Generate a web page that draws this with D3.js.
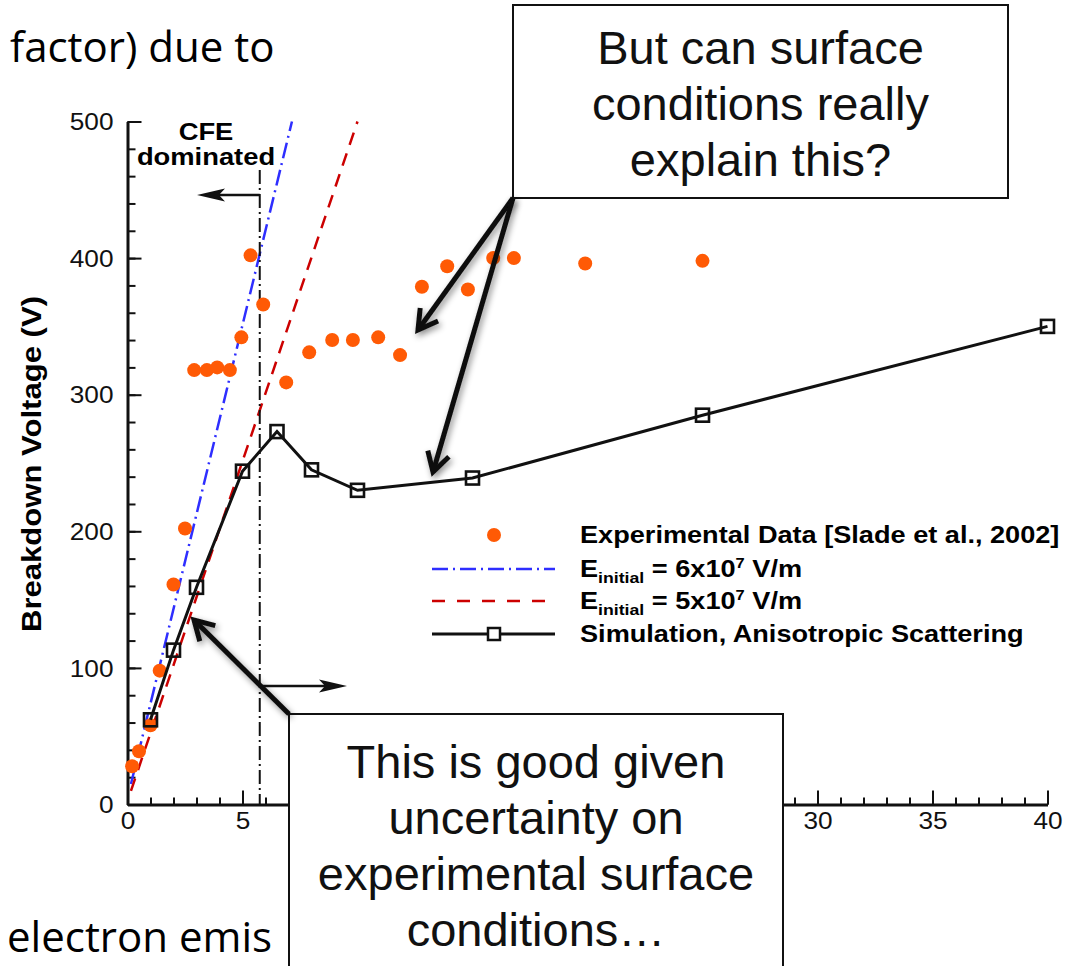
<!DOCTYPE html>
<html>
<head>
<meta charset="utf-8">
<script src="https://cdn.jsdelivr.net/npm/d3@7"></script>
<style>
  body { margin: 0; background: #fff; }
  svg { display: block; }
</style>
</head>
<body>
<div id="chart"></div>
<script>
"use strict";

// experimental data [Slade et al., 2002]
const expGap = [0.2, 0.5, 1.0, 1.4, 2.0, 2.5, 2.9, 3.45, 3.9, 4.45, 4.95, 5.35, 5.9, 6.9, 7.9, 8.9, 9.8, 10.9, 11.85, 12.8, 13.9, 14.8, 15.9, 16.8, 19.9, 25.0];
const expVolt = [28, 39, 58, 98, 161, 202, 318, 318, 320, 318, 342, 402, 366, 309, 331, 340, 340, 342, 329, 379, 394, 377, 400, 400, 396, 398];

// simulation, anisotropic scattering
const simGap = [1, 2, 3, 5, 6.5, 8, 10, 15, 25, 40];
const simVolt = [62, 113, 159, 244, 273, 245, 230, 239, 285, 350];

// E_initial lines (end points)
const e6Gap = [0.15, 7.15];
const e6Volt = [15, 500];
const e5Gap = [0.15, 10];
const e5Volt = [10, 500];

const cfeGap = 5.75;

const xMajor = [0, 5, 10, 15, 20, 25, 30, 35, 40];
const yMajor = [0, 100, 200, 300, 400, 500];

const legendLabels = ["Experimental Data [Slade et al., 2002]", "6x10", "5x10", "Simulation, Anisotropic Scattering"];

const W = 1073, H = 966;
const svg = d3.select("#chart").append("svg").attr("width", W).attr("height", H);

const defs = svg.append("defs");
const f = defs.append("filter").attr("id", "shadow").attr("x", "-20%").attr("y", "-20%").attr("width", "140%").attr("height", "140%");
f.append("feDropShadow").attr("dx", 2).attr("dy", 3).attr("stdDeviation", 3).attr("flood-color", "#000").attr("flood-opacity", 0.45);

// slide text behind the figure
svg.append("text").attr("x", 10).attr("y", 62)
  .style("font-family", "Open Sans").style("font-size", "42px").text("factor) due to");
svg.append("text").attr("x", 7).attr("y", 952)
  .style("font-family", "Open Sans").style("font-size", "42px").text("electron emis");

const x = d3.scaleLinear().domain([0, 40]).range([127.5, 1047.5]);
const y = d3.scaleLinear().domain([0, 500]).range([804.5, 121.5]);

const font = "'Liberation Sans', Arial, Helvetica, sans-serif";
const sx = 1.14; // figure text is a bit wider than the font

// text stretched horizontally like in the pasted figure
function wideText(parent, tx, ty, k) {
  return parent.append("text").attr("transform", `translate(${tx},${ty}) scale(${k},1)`);
}

// axes (labels under the lower callout are hidden there)
const hidden = v => v > 7 && v < 28;
const gx = svg.append("g").attr("transform", `translate(0,${y(0)})`);
gx.call(d3.axisBottom(x).tickValues(d3.range(0, 41, 1)).tickSize(-7).tickSizeOuter(0).tickFormat(""));
gx.call(g => g.select(".domain").remove());
const gx2 = svg.append("g").attr("transform", `translate(0,${y(0)})`);
gx2.call(d3.axisBottom(x).tickValues(xMajor).tickSize(-14).tickSizeOuter(0).tickPadding(8)
  .tickFormat(d => hidden(d) ? "" : d));

const gy = svg.append("g").attr("transform", `translate(${x(0)},0)`);
gy.call(d3.axisLeft(y).tickValues(d3.range(0, 501, 20)).tickSize(-8).tickSizeOuter(0).tickFormat(""));
gy.call(g => g.select(".domain").remove());
const gy2 = svg.append("g").attr("transform", `translate(${x(0)},0)`);
gy2.call(d3.axisLeft(y).tickValues(yMajor).tickSize(-14).tickSizeOuter(0).tickPadding(0));

svg.selectAll(".tick line").attr("stroke", "#111").attr("stroke-width", 2);
svg.selectAll(".domain").attr("stroke", "#111").attr("stroke-width", 3);
svg.selectAll(".tick text").style("font-family", font).style("font-size", "23px").attr("fill", "#111");
gx2.selectAll(".tick text").attr("transform", `scale(${sx},1)`);
gy2.selectAll(".tick text").attr("x", 0).attr("dy", "0.36em").attr("transform", `translate(-14,0) scale(${sx},1)`);

svg.append("text")
  .attr("transform", `translate(41,${(y(0) + y(500)) / 2 + 1}) rotate(-90)`)
  .attr("text-anchor", "middle")
  .attr("textLength", 336).attr("lengthAdjust", "spacingAndGlyphs")
  .style("font-family", font).style("font-weight", "bold").style("font-size", "28px")
  .text("Breakdown Voltage (V)");

// E initial lines
const line = d3.line().x(d => x(d[0])).y(d => y(d[1]));
svg.append("path").datum(d3.zip(e6Gap, e6Volt)).attr("d", line)
  .attr("fill", "none").attr("stroke", "#2e2eff").attr("stroke-width", 2.5).attr("stroke-dasharray", "16,5,2,5");
svg.append("path").datum(d3.zip(e5Gap, e5Volt)).attr("d", line)
  .attr("fill", "none").attr("stroke", "#cc0000").attr("stroke-width", 2.5).attr("stroke-dasharray", "13,9");

// CFE boundary
svg.append("line").attr("x1", x(cfeGap)).attr("x2", x(cfeGap)).attr("y1", 170).attr("y2", y(0))
  .attr("stroke", "#111").attr("stroke-width", 2).attr("stroke-dasharray", "14,4,2,4");

function solidArrow(x1, y1, x2, y2) {
  const dir = Math.sign(x2 - x1);
  svg.append("line").attr("x1", x1).attr("y1", y1).attr("x2", x2 - dir * 18).attr("y2", y2)
    .attr("stroke", "#111").attr("stroke-width", 2.5);
  svg.append("path")
    .attr("d", `M${x2},${y2} L${x2 - dir * 28},${y2 - 6.5} L${x2 - dir * 22},${y2} L${x2 - dir * 28},${y2 + 6.5} Z`)
    .attr("fill", "#111");
}
solidArrow(x(cfeGap), 195, 197, 195);
solidArrow(x(cfeGap), 686, 347, 686);

wideText(svg, 206, 140, sx).attr("text-anchor", "middle")
  .style("font-family", font).style("font-weight", "bold").style("font-size", "24px").text("CFE");
wideText(svg, 206, 165, sx).attr("text-anchor", "middle")
  .style("font-family", font).style("font-weight", "bold").style("font-size", "24px").text("dominated");

// experimental points
svg.append("g").selectAll("circle").data(d3.zip(expGap, expVolt)).join("circle")
  .attr("cx", d => x(d[0])).attr("cy", d => y(d[1])).attr("r", 7).attr("fill", "#ff5a05");

// simulation
svg.append("path").datum(d3.zip(simGap, simVolt)).attr("d", line)
  .attr("fill", "none").attr("stroke", "#111").attr("stroke-width", 3);
svg.append("g").selectAll("rect").data(d3.zip(simGap, simVolt)).join("rect")
  .attr("x", d => x(d[0]) - 6.5).attr("y", d => y(d[1]) - 6.5).attr("width", 13).attr("height", 13)
  .attr("fill", "none").attr("stroke", "#111").attr("stroke-width", 2.6);

// legend
const lg = svg.append("g").style("font-family", font).style("font-weight", "bold").style("font-size", "23px");
const rows = [535, 569, 601, 634];
lg.append("circle").attr("cx", 494).attr("cy", rows[0]).attr("r", 7).attr("fill", "#ff5a05");
lg.append("line").attr("x1", 432).attr("x2", 555).attr("y1", rows[1]).attr("y2", rows[1])
  .attr("stroke", "#2e2eff").attr("stroke-width", 2.5).attr("stroke-dasharray", "16,5,2,5");
lg.append("line").attr("x1", 432).attr("x2", 555).attr("y1", rows[2]).attr("y2", rows[2])
  .attr("stroke", "#cc0000").attr("stroke-width", 2.5).attr("stroke-dasharray", "13,12");
lg.append("line").attr("x1", 432).attr("x2", 555).attr("y1", rows[3]).attr("y2", rows[3])
  .attr("stroke", "#111").attr("stroke-width", 3);
lg.append("rect").attr("x", 488).attr("y", rows[3] - 6).attr("width", 12).attr("height", 12)
  .attr("fill", "#fff").attr("stroke", "#111").attr("stroke-width", 2.5);

const lsx = 1.18;
wideText(lg, 580, rows[0] + 8, lsx).text(legendLabels[0]);
[1, 2].forEach(i => {
  const t = wideText(lg, 580, rows[i] + 8, lsx);
  t.append("tspan").text("E");
  t.append("tspan").attr("dy", 6).style("font-size", "15px").text("initial");
  t.append("tspan").attr("dy", -6).text(" = " + legendLabels[i]);
  t.append("tspan").attr("dy", -9).style("font-size", "14px").text("7");
  t.append("tspan").attr("dy", 9).text(" V/m");
});
wideText(lg, 580, rows[3] + 8, lsx).text(legendLabels[3]);

// callouts
function callout(x0, y0, w, h, lines, y1, lh) {
  svg.append("rect").attr("x", x0).attr("y", y0).attr("width", w).attr("height", h)
    .attr("fill", "#fff").attr("stroke", "#111").attr("stroke-width", 2);
  const t = svg.append("text").attr("text-anchor", "middle")
    .style("font-family", font).style("font-size", "47px").attr("fill", "#111");
  lines.forEach((s, i) => t.append("tspan").attr("x", x0 + w / 2).attr("y", y1 + i * lh).text(s));
}

function openArrow(x1, y1, x2, y2) {
  const a = Math.atan2(y2 - y1, x2 - x1);
  const L = 22, s = Math.PI / 6;
  const p1 = [x2 - L * Math.cos(a - s), y2 - L * Math.sin(a - s)];
  const p2 = [x2 - L * Math.cos(a + s), y2 - L * Math.sin(a + s)];
  const g = svg.append("g").attr("filter", "url(#shadow)");
  g.append("path").attr("d", `M${x1},${y1} L${x2},${y2}`)
    .attr("stroke", "#111").attr("stroke-width", 5).attr("fill", "none");
  g.append("path").attr("d", `M${p1[0]},${p1[1]} L${x2},${y2} L${p2[0]},${p2[1]}`)
    .attr("stroke", "#111").attr("stroke-width", 5).attr("fill", "none").attr("stroke-linejoin", "miter");
}

callout(513, 5, 495, 193, ["But can surface", "conditions really", "explain this?"], 64, 56);
openArrow(513, 198, 418, 330);
openArrow(513, 198, 433, 472);

callout(289, 714, 494, 270, ["This is good given", "uncertainty on", "experimental surface", "conditions…"], 778, 56);
openArrow(289, 714, 194, 620);
</script>
</body>
</html>
